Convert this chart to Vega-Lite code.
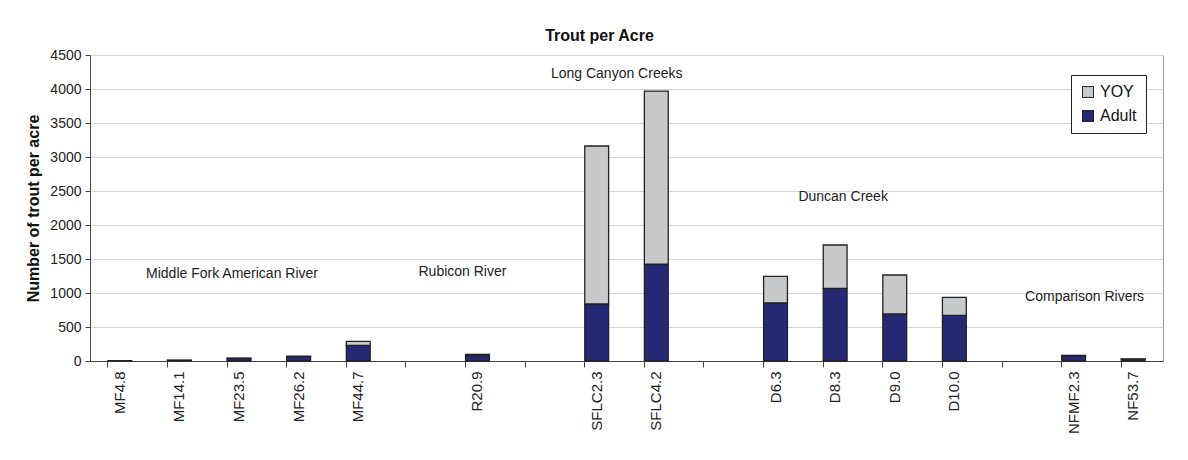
{
  "$schema": "https://vega.github.io/schema/vega-lite/v6.json",
  "autosize": {"type": "none"},
  "padding": {"left": 90, "top": 55, "right": 25, "bottom": 99},
  "width": 1073,
  "height": 306,
  "background": "white",
  "title": {"text": "Trout per Acre", "fontSize": 16, "fontWeight": "bold", "font": "Liberation Sans", "color": "#111", "anchor": "middle", "frame": "group", "baseline": "alphabetic", "offset": -9, "dx": -27},
  "config": {
    "font": "Liberation Sans",
    "view": {"stroke": "#9a9a9a", "strokeWidth": 1}
  },
  "datasets": {
    "trout": [
      {"site": "MF4.8", "type": "Adult", "value": 5},
      {"site": "MF4.8", "type": "YOY", "value": 0},
      {"site": "MF14.1", "type": "Adult", "value": 10},
      {"site": "MF14.1", "type": "YOY", "value": 2},
      {"site": "MF23.5", "type": "Adult", "value": 38},
      {"site": "MF23.5", "type": "YOY", "value": 4},
      {"site": "MF26.2", "type": "Adult", "value": 65},
      {"site": "MF26.2", "type": "YOY", "value": 5},
      {"site": "MF44.7", "type": "Adult", "value": 230},
      {"site": "MF44.7", "type": "YOY", "value": 60},
      {"site": "R20.9", "type": "Adult", "value": 80},
      {"site": "R20.9", "type": "YOY", "value": 18},
      {"site": "SFLC2.3", "type": "Adult", "value": 838},
      {"site": "SFLC2.3", "type": "YOY", "value": 2324},
      {"site": "SFLC4.2", "type": "Adult", "value": 1426},
      {"site": "SFLC4.2", "type": "YOY", "value": 2544},
      {"site": "D6.3", "type": "Adult", "value": 853},
      {"site": "D6.3", "type": "YOY", "value": 392},
      {"site": "D8.3", "type": "Adult", "value": 1069},
      {"site": "D8.3", "type": "YOY", "value": 637},
      {"site": "D9.0", "type": "Adult", "value": 691},
      {"site": "D9.0", "type": "YOY", "value": 574},
      {"site": "D10.0", "type": "Adult", "value": 672},
      {"site": "D10.0", "type": "YOY", "value": 265},
      {"site": "NFMF2.3", "type": "Adult", "value": 75},
      {"site": "NFMF2.3", "type": "YOY", "value": 8},
      {"site": "NF53.7", "type": "Adult", "value": 28},
      {"site": "NF53.7", "type": "YOY", "value": 2}
    ],
    "labels": [
      {"site": "MF23.5", "value": 1280, "text": "Middle Fork American River"},
      {"site": "R20.9", "value": 1310, "text": "Rubicon River"},
      {"site": "SFLC2.3", "value": 4215, "text": "Long Canyon Creeks"},
      {"site": "D8.3", "value": 2410, "text": "Duncan Creek"},
      {"site": "NFMF2.3", "value": 945, "text": "Comparison Rivers"}
    ]
  },
  "encoding": {
    "x": {
      "field": "site", "type": "nominal",
      "scale": {
        "domain": ["MF4.8","MF14.1","MF23.5","MF26.2","MF44.7","gap1","R20.9","gap2","SFLC2.3","SFLC4.2","gap3","D6.3","D8.3","D9.0","D10.0","gap4","NFMF2.3","NF53.7"],
        "paddingInner": 0.6, "paddingOuter": 0.3
      },
      "axis": {
        "title": null,
        "bandPosition": 0,
        "labelExpr": "indexof(datum.value, 'gap') == 0 ? '' : datum.value",
        "labelAngle": 270,
        "labelAlign": "right",
        "labelBaseline": "middle",
        "labelDy": 30,
        "labelPadding": 4,
        "labelFontSize": 15,
        "labelColor": "#222",
        "labelOverlap": false,
        "labelBound": false,
        "labelFlush": false,
        "domainColor": "#444",
        "tickColor": "#444",
        "tickSize": 6,
        "grid": false
      }
    },
    "y": {
      "field": "value", "type": "quantitative",
      "scale": {"domain": [0, 4500], "nice": false},
      "axis": {
        "title": "Number of trout per acre",
        "titleFontSize": 16, "titleFontWeight": "bold", "titleColor": "#111",
        "titlePadding": 8,
        "values": [0,500,1000,1500,2000,2500,3000,3500,4000,4500],
        "format": "d",
        "labelOverlap": false,
        "labelFontSize": 14, "labelColor": "#222", "labelPadding": 4,
        "tickSize": 5, "tickColor": "#444", "domainColor": "#444",
        "gridColor": "#d6d6d6", "gridWidth": 1
      }
    }
  },
  "layer": [
    {
      "data": {"name": "trout"},
      "mark": {"type": "bar", "stroke": "#222", "strokeWidth": 1.3},
      "encoding": {
        "color": {
          "field": "type", "type": "nominal",
          "scale": {"domain": ["YOY", "Adult"], "range": ["#c8c9cb", "#262873"]},
          "legend": {
            "title": null, "orient": "none", "legendX": 981, "legendY": 20,
            "strokeColor": "#222", "fillColor": "white", "padding": 9,
            "symbolType": "square", "symbolSize": 121, "symbolStrokeColor": "#222", "symbolStrokeWidth": 1,
            "labelFontSize": 16, "labelColor": "#111", "labelOffset": 4, "rowPadding": 8
          }
        },
        "order": {"field": "type", "sort": "ascending"}
      }
    },
    {
      "data": {"name": "labels"},
      "transform": [{"filter": "datum.site == 'MF23.5'"}],
      "mark": {"type": "text", "fontSize": 14, "color": "#222", "dx": -7},
      "encoding": {"text": {"field": "text"}}
    },
    {
      "data": {"name": "labels"},
      "transform": [{"filter": "datum.site == 'R20.9'"}],
      "mark": {"type": "text", "fontSize": 14, "color": "#222", "dx": -15},
      "encoding": {"text": {"field": "text"}}
    },
    {
      "data": {"name": "labels"},
      "transform": [{"filter": "datum.site == 'SFLC2.3'"}],
      "mark": {"type": "text", "fontSize": 14, "color": "#222", "dx": 20},
      "encoding": {"text": {"field": "text"}}
    },
    {
      "data": {"name": "labels"},
      "transform": [{"filter": "datum.site == 'D8.3'"}],
      "mark": {"type": "text", "fontSize": 14, "color": "#222", "dx": 8},
      "encoding": {"text": {"field": "text"}}
    },
    {
      "data": {"name": "labels"},
      "transform": [{"filter": "datum.site == 'NFMF2.3'"}],
      "mark": {"type": "text", "fontSize": 14, "color": "#222", "dx": 11},
      "encoding": {"text": {"field": "text"}}
    }
  ]
}
